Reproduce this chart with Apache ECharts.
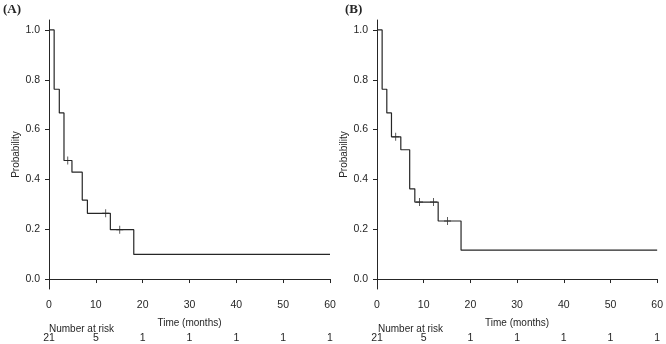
<!DOCTYPE html>
<html>
<head>
<meta charset="utf-8">
<script src="https://cdn.jsdelivr.net/npm/echarts@6/dist/echarts.min.js"></script>
<style>
  html, body { margin: 0; padding: 0; background: #fff; }
  #chart { width: 666px; height: 344px; }
</style>
</head>
<body>
<div id="chart"></div>
<script>
// Kaplan-Meier steps: [time, survival]
var stepsA = [[0, 1], [1.1, 0.762], [2.2, 0.667], [3.2, 0.476], [4.9, 0.429], [7.1, 0.317], [8.2, 0.264], [13.1, 0.198], [18.1, 0.099], [60, 0.099]];
var censorA = [[4.0, 0.476], [12.1, 0.264], [15.1, 0.198]];
var stepsB = [[0, 1], [1.1, 0.762], [2.1, 0.667], [3.1, 0.571], [5.1, 0.519], [7.0, 0.362], [8.1, 0.309], [13.1, 0.233], [18.0, 0.116], [60, 0.116]];
var censorB = [[4.0, 0.571], [9.1, 0.309], [12.1, 0.309], [15.1, 0.233]];
var riskA = ['21', '5', '1', '1', '1', '1', '1'];
var riskB = ['21', '5', '1', '1', '1', '1', '1'];
var yTicks = [0, 0.2, 0.4, 0.6, 0.8, 1.0];

var chart = echarts.init(document.getElementById('chart'));
var ink = '#262626';
var narrow = '"Liberation Sans Narrow", "Liberation Sans", Arial, sans-serif';
var plusMark = 'path://M3,0L3,8M0,4L6,4';

function timeAxis(idx) {
  return {
    type: 'value', gridIndex: idx, min: 0, max: 60, interval: 10,
    name: 'Time (months)', nameLocation: 'middle', nameGap: 29,
    nameTextStyle: { color: ink, fontFamily: narrow, fontSize: 10 },
    axisLine: { lineStyle: { color: ink, width: 1 } },
    axisTick: { length: 4, lineStyle: { color: ink } },
    axisLabel: { color: ink, fontFamily: narrow, fontSize: 10.5, margin: 11 },
    splitLine: { show: false }
  };
}
function riskAxis(idx, risk) {
  return {
    type: 'value', gridIndex: idx, min: 0, max: 60, interval: 10,
    position: 'bottom', offset: 36,
    axisLine: { show: false }, axisTick: { show: false }, splitLine: { show: false },
    axisLabel: {
      color: ink, fontFamily: narrow, fontSize: 10.5, margin: 8,
      formatter: function (v) { return risk[Math.round(v / 10)]; }
    }
  };
}
function probAxis(idx) {
  return {
    type: 'value', gridIndex: idx, min: -0.04, max: 1.04,
    name: 'Probability', nameLocation: 'middle', nameGap: 21,
    nameTextStyle: { color: ink, fontFamily: 'Liberation Sans, Arial, sans-serif', fontSize: 10 },
    axisLine: { show: true, lineStyle: { color: ink, width: 1 } },
    axisTick: { show: true, length: 4, customValues: yTicks, lineStyle: { color: ink } },
    axisLabel: {
      color: ink, fontFamily: narrow, fontSize: 10.5, margin: 9, customValues: yTicks,
      formatter: function (v) { return v.toFixed(1); }
    },
    splitLine: { show: false }
  };
}
function curve(idx, data) {
  return {
    type: 'line', xAxisIndex: idx * 2, yAxisIndex: idx, step: 'end',
    data: data, symbol: 'none', silent: true,
    lineStyle: { color: ink, width: 1.2 }
  };
}
function censor(idx, data) {
  return {
    type: 'scatter', xAxisIndex: idx * 2, yAxisIndex: idx, data: data,
    symbol: plusMark, symbolSize: [7, 8], silent: true,
    itemStyle: { color: 'none', borderColor: ink, borderWidth: 1 }
  };
}

var option = {
  backgroundColor: '#fff',
  animation: false,
  grid: [
    { left: 49, right: 336, top: 20, bottom: 54 },
    { left: 377, right: 7, top: 20, bottom: 54 }
  ],
  xAxis: [timeAxis(0), riskAxis(0, riskA), timeAxis(1), riskAxis(1, riskB)],
  yAxis: [probAxis(0), probAxis(1)],
  series: [curve(0, stepsA), censor(0, censorA), curve(1, stepsB), censor(1, censorB)],
  graphic: [
    { type: 'text', left: 3, top: 3, style: { text: '(A)', fill: ink, font: 'bold 13px "Liberation Serif", serif' } },
    { type: 'text', left: 345, top: 3, style: { text: '(B)', fill: ink, font: 'bold 13px "Liberation Serif", serif' } },
    { type: 'text', left: 49, top: 324, style: { text: 'Number at risk', fill: ink, font: '10px ' + narrow } },
    { type: 'text', left: 378, top: 324, style: { text: 'Number at risk', fill: ink, font: '10px ' + narrow } }
  ]
};
chart.setOption(option);
</script>
</body>
</html>
